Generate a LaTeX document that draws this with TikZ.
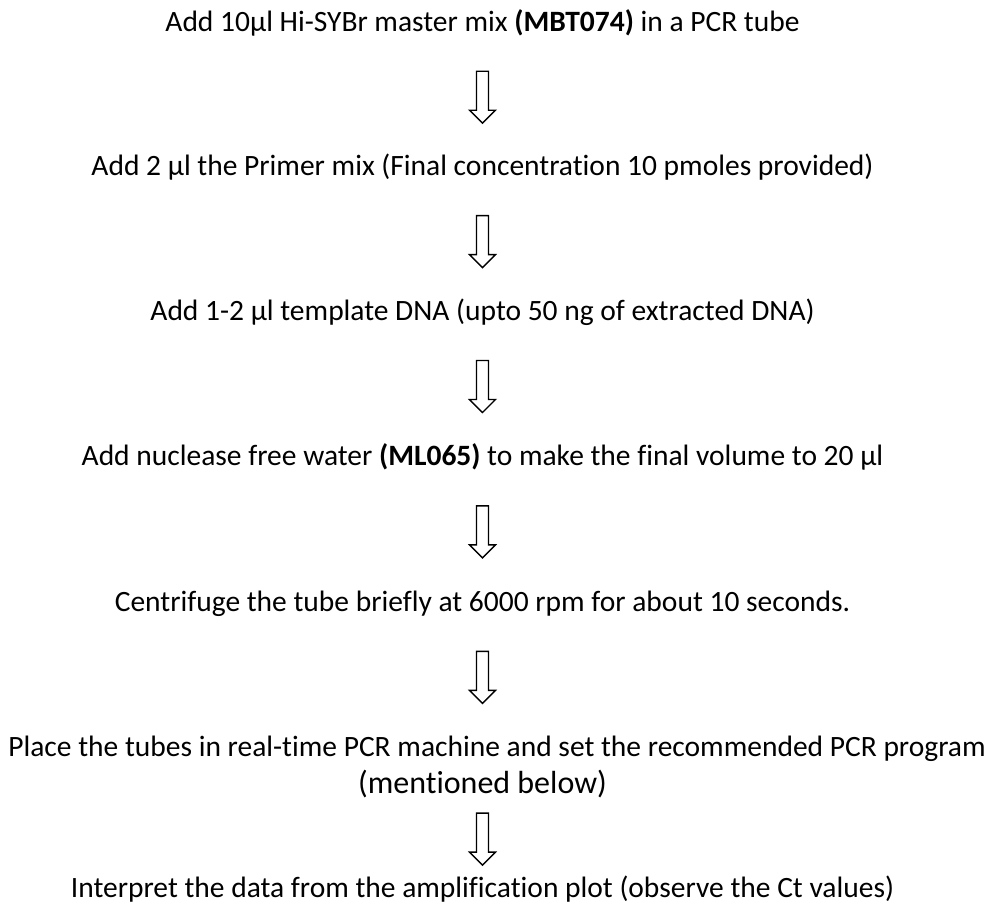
\documentclass[tikz,border=0pt]{standalone}
\usepackage{fontspec}
\setmainfont{Carlito}[Ligatures=NoCommon]
\usetikzlibrary{positioning,calc}

\tikzset{
	stepline/.style={inner sep=0pt, text height=20pt, text depth=7pt, font=\fontsize{29.5}{35}\selectfont},
	hollowarrow/.style={draw, line width=1.4pt, line join=miter, fill=white}
}

% block arrow half way between two anchors
\newcommand{\downblock}[2]{%
	\path let \p1 = ($#1!0.5!#2$) in
	[hollowarrow] (\x1-6pt,\y1+26pt) -- (\x1-6pt,\y1-13pt) -- (\x1-13pt,\y1-13pt)
	-- (\x1,\y1-26pt) -- (\x1+13pt,\y1-13pt) -- (\x1+6pt,\y1-13pt)
	-- (\x1+6pt,\y1+26pt) -- cycle;}

\begin{document}
\begin{tikzpicture}
	\useasboundingbox (-482.5pt,25pt) rectangle (506.5pt,-878pt);
	\node[stepline] (s1) at (0,0) {Add 10µl Hi-SYBr master mix \textbf{(MBT074)} in a PCR tube};
	\node[stepline, below = 117pt of s1] (s2) {Add 2 µl the Primer mix (Final concentration 10 pmoles provided)};
	\node[stepline, below = 117pt of s2] (s3) {Add 1-2 µl template DNA (upto 50 ng of extracted DNA)};
	\node[stepline, below = 118pt of s3] (s4) {Add nuclease free water \textbf{(ML065)} to make the final volume to 20 µl};
	\node[stepline, below = 118pt of s4] (s5) {Centrifuge the tube briefly at 6000 rpm for about 10 seconds.};
	\node[stepline, below = 118pt of s5, xshift=14.5pt] (s6) {Place the tubes in real-time PCR machine and set the recommended PCR program};
	\node[stepline, below = 10pt of s6, xshift=-14.5pt, font=\fontsize{32}{38}\selectfont] (s6b) {(mentioned below)};
	\node[stepline, below = 76pt of s6b] (s7) {Interpret the data from the amplification plot (observe the Ct values)};
	\downblock{(s1.south)}{(s2.north)}
	\downblock{(s2.south)}{(s3.north)}
	\downblock{(s3.south)}{(s4.north)}
	\downblock{(s4.south)}{(s5.north)}
	\downblock{(s5.south)}{(s6.north -| s5)}
	\downblock{(s6b.south)}{(s7.north)}
\end{tikzpicture}
\end{document}
